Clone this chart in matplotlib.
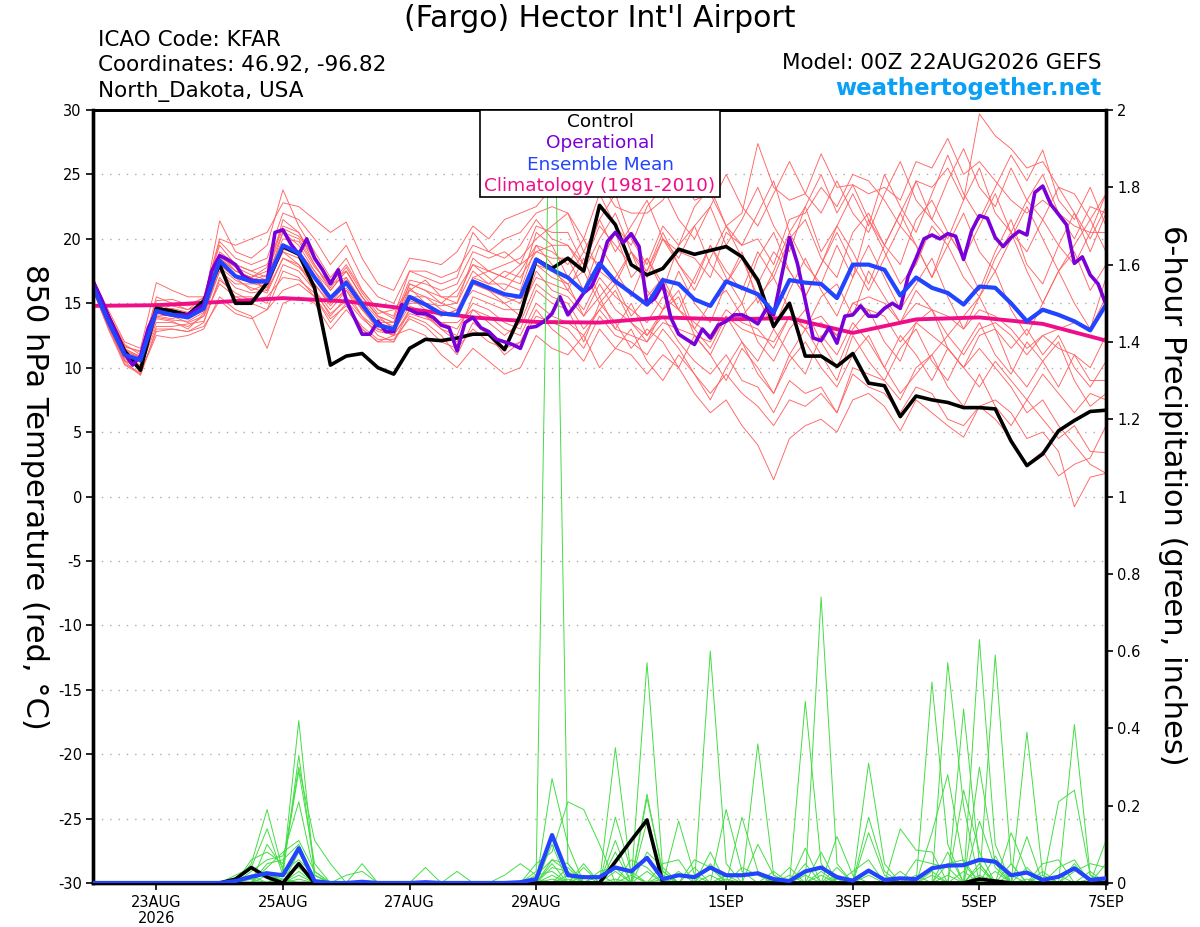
import numpy as np
import matplotlib
matplotlib.use("Agg")
import matplotlib.pyplot as plt
from matplotlib.patches import Rectangle

plt.rcParams['font.family'] = ['DejaVu Sans']

# ---------------- data ----------------
step6_hours = 6
step3_hours = 3
n6 = 65
n3 = 129

tick_days = [1, 3, 5, 7, 10, 12, 14, 16]
tick_labels = ["23AUG\n2026", "25AUG", "27AUG", "29AUG", "1SEP", "3SEP", "5SEP", "7SEP"]
temp_ticks = [-30, -25, -20, -15, -10, -5, 0, 5, 10, 15, 20, 25, 30]
precip_ticks = [0, 0.2, 0.4, 0.6, 0.8, 1.0, 1.2, 1.4, 1.6, 1.8, 2.0]
precip_ticklabels = ["0", "0.2", "0.4", "0.6", "0.8", "1", "1.2", "1.4", "1.6", "1.8", "2"]

ens_mean_t = [16.3, 13.5, 11.0, 10.6, 14.4, 14.1, 13.9, 14.6, 18.3, 17.1,
              16.7, 16.7, 19.5, 18.9, 17.0, 15.4, 16.6, 14.9, 13.3, 13.0,
              15.5, 14.9, 14.2, 14.1, 16.7, 16.2, 15.7, 15.5, 18.4, 17.6,
              17.0, 15.9, 18.1, 16.7, 15.8, 14.9, 16.8, 16.5, 15.3, 14.8,
              16.7, 16.2, 15.7, 14.3, 16.8, 16.6, 16.5, 15.4, 18.0, 18.0,
              17.6, 15.6, 17.0, 16.2, 15.8, 14.9, 16.3, 16.2, 15.0, 13.6,
              14.5, 14.1, 13.6, 12.9, 14.9]

control_t = [16.7, 13.9, 11.3, 9.8, 14.6, 14.4, 14.1, 15.2, 18.0, 15.0,
             15.0, 16.6, 19.4, 18.8, 16.2, 10.2, 10.9, 11.1, 10.0, 9.5,
             11.5, 12.2, 12.1, 12.3, 12.6, 12.6, 11.4, 14.1, 18.4, 17.7,
             18.5, 17.5, 22.6, 21.1, 18.0, 17.2, 17.7, 19.2, 18.8, 19.1,
             19.4, 18.6, 16.8, 13.2, 15.0, 10.9, 10.9, 10.1, 11.1, 8.8,
             8.6, 6.2, 7.8, 7.5, 7.3, 6.9, 6.9, 6.8, 4.3, 2.4,
             3.3, 5.1, 5.9, 6.6, 6.7]

operational_t = [16.7, 15.4, 13.9, 12.6, 11.1, 10.2, 10.9, 13.1, 14.4, 14.2,
                 14.1, 14.1, 14.1, 14.5, 14.9, 17.5, 18.7, 18.4, 18.0, 17.1,
                 16.8, 16.7, 16.7, 20.5, 20.7, 19.6, 18.8, 20.0, 18.5, 17.6,
                 16.5, 17.6, 15.2, 13.9, 12.6, 12.6, 13.6, 12.8, 12.8, 14.9,
                 14.5, 14.2, 14.2, 13.9, 13.3, 13.1, 11.3, 13.5, 13.9, 13.1,
                 12.8, 12.2, 12.0, 11.8, 11.5, 13.1, 13.2, 13.6, 14.2, 15.5,
                 14.1, 14.9, 15.8, 16.3, 17.7, 19.8, 20.5, 19.7, 20.4, 19.4,
                 14.9, 15.4, 16.5, 13.9, 12.6, 12.2, 11.8, 13.0, 12.3, 13.3,
                 13.6, 14.1, 14.1, 13.8, 13.4, 14.5, 14.1, 17.1, 20.1, 18.1,
                 15.2, 12.3, 12.1, 13.1, 11.9, 14.0, 14.1, 14.8, 14.0, 14.0,
                 14.6, 15.0, 14.6, 17.1, 18.5, 20.0, 20.3, 20.0, 20.4, 20.2,
                 18.4, 20.6, 21.8, 21.6, 20.1, 19.4, 20.1, 20.6, 20.3, 23.6,
                 24.1, 22.7, 21.9, 21.1, 18.1, 18.6, 17.2, 16.5, 14.9]

clim_days = [0, 1, 2, 3, 4, 5, 6, 7, 8, 9, 10, 11, 12, 13, 14, 15, 16]
climatology_t = [14.8, 14.85, 15.1, 15.4, 15.15, 14.55, 13.9, 13.55, 13.5, 13.9,
                 13.75, 13.85, 12.7, 13.75, 13.9, 13.4, 12.1]

member_t_01 = [16.5, 14.0, 11.5, 10.8, 15.5, 15.0, 14.5, 15.0, 21.4, 19.0,
               18.5, 19.5, 23.8, 21.0, 19.0, 17.0, 18.5, 16.0, 14.5, 14.0,
               17.5, 17.0, 16.5, 17.0, 20.5, 19.0, 18.5, 19.5, 21.5, 20.0,
               19.5, 18.0, 21.0, 19.5, 18.0, 17.5, 20.0, 19.0, 18.5, 17.0,
               20.5, 19.5, 20.0, 18.0, 21.5, 22.0, 24.0, 22.5, 25.0, 24.5,
               23.0, 21.0, 24.5, 24.0, 25.5, 23.0, 29.7, 28.0, 27.0, 25.5,
               26.0, 24.0, 23.5, 21.5, 23.5]
member_t_02 = [16.0, 13.0, 10.5, 9.4, 13.0, 13.0, 12.8, 13.5, 17.0, 15.5,
               15.0, 14.5, 17.5, 17.0, 15.5, 13.5, 15.0, 13.0, 12.0, 12.0,
               14.0, 13.5, 12.5, 11.0, 13.5, 12.5, 11.0, 12.0, 14.5, 13.0,
               12.0, 10.5, 13.0, 11.5, 11.0, 9.5, 11.0, 10.0, 8.0, 6.5,
               7.5, 5.5, 4.0, 1.3, 4.5, 5.5, 6.0, 5.0, 7.5, 8.0,
               7.0, 5.1, 7.5, 6.5, 5.5, 4.6, 7.0, 7.5, 6.5, 4.5,
               5.0, 3.5, -0.8, 1.5, 1.8]
member_t_03 = [16.8, 14.2, 11.8, 11.0, 15.0, 14.8, 14.5, 15.5, 19.5, 18.0,
               17.5, 17.0, 21.5, 20.5, 18.0, 16.0, 17.5, 15.5, 14.0, 13.5,
               16.5, 16.0, 15.5, 15.0, 18.5, 17.5, 17.0, 16.5, 20.5, 19.5,
               17.0, 19.0, 18.0, 20.5, 17.0, 18.5, 16.0, 19.5, 21.0, 18.0,
               16.5, 19.0, 15.0, 17.5, 20.5, 18.0, 16.5, 19.5, 17.0, 21.5,
               19.0, 16.5, 18.0, 21.0, 19.5, 17.0, 15.5, 18.5, 20.5, 17.5,
               15.0, 17.5, 19.0, 16.0, 18.0]
member_t_04 = [16.2, 13.2, 10.8, 10.2, 13.5, 13.5, 13.2, 14.0, 16.5, 15.5,
               15.5, 15.0, 18.0, 17.5, 16.0, 14.0, 15.5, 14.0, 13.0, 12.5,
               14.5, 14.0, 13.5, 13.0, 15.0, 14.5, 13.5, 13.0, 16.0, 15.0,
               14.5, 12.0, 15.0, 13.5, 11.5, 13.0, 12.0, 10.0, 12.5, 11.0,
               9.0, 11.5, 10.0, 8.0, 10.5, 12.0, 10.0, 8.5, 11.0, 12.5,
               10.0, 8.0, 9.5, 11.0, 8.5, 7.0, 9.5, 7.0, 5.5, 7.5,
               6.0, 4.5, 5.5, 3.5, 3.4]
member_t_05 = [16.4, 13.8, 11.2, 10.5, 14.5, 14.2, 14.0, 14.8, 18.5, 17.5,
               17.0, 17.5, 20.5, 19.5, 17.5, 15.5, 17.0, 15.0, 13.5, 13.0,
               16.0, 15.5, 15.0, 16.0, 18.0, 17.5, 18.0, 18.5, 20.0, 21.0,
               22.0, 19.0, 21.5, 23.5, 20.0, 18.0, 21.0, 19.5, 22.5, 24.0,
               21.0, 19.5, 22.0, 24.5, 20.5, 22.5, 19.0, 21.0, 23.5, 21.0,
               25.0, 22.5, 20.5, 23.5, 26.5, 23.5, 21.5, 24.0, 26.5, 24.5,
               26.9, 23.0, 21.5, 24.0, 21.0]
member_t_06 = [16.6, 13.6, 11.4, 10.9, 14.2, 14.5, 14.0, 14.5, 18.0, 17.0,
               16.0, 16.5, 19.0, 18.5, 17.0, 15.0, 16.5, 14.5, 13.5, 13.5,
               15.0, 15.0, 14.0, 14.5, 16.5, 16.0, 15.0, 14.0, 17.5, 16.0,
               15.5, 14.0, 16.5, 14.5, 13.5, 12.5, 14.0, 12.0, 10.5, 9.5,
               11.0, 9.0, 8.5, 6.5, 9.0, 8.0, 8.5, 6.5, 9.5, 8.5,
               8.0, 6.5, 8.5, 8.0, 6.0, 5.5, 7.0, 6.0, 4.5, 2.5,
               3.5, 1.6, 2.5, 3.0, 5.5]
member_t_07 = [16.3, 13.5, 10.9, 10.0, 14.0, 13.8, 14.2, 14.8, 18.8, 17.5,
               17.0, 16.0, 19.5, 19.0, 17.5, 16.0, 17.5, 15.5, 14.0, 13.0,
               15.5, 15.5, 14.5, 14.0, 17.0, 16.5, 17.5, 17.0, 19.0, 18.5,
               18.5, 16.0, 19.5, 17.5, 15.5, 18.5, 16.5, 14.5, 17.0, 19.5,
               17.0, 15.0, 18.5, 20.5, 17.5, 15.5, 18.0, 21.0, 19.0, 16.5,
               19.5, 22.0, 19.5, 17.0, 20.5, 18.5, 16.0, 19.0, 21.5, 18.0,
               16.5, 19.5, 22.0, 19.0, 22.0]
member_t_08 = [16.7, 13.9, 11.6, 11.3, 15.0, 14.0, 13.5, 14.0, 17.5, 16.5,
               16.5, 16.5, 19.0, 18.0, 16.5, 15.0, 16.0, 14.5, 13.0, 12.5,
               15.5, 14.5, 14.0, 14.5, 16.0, 15.5, 15.0, 15.5, 18.0, 17.5,
               16.5, 17.5, 15.0, 16.5, 14.0, 15.5, 17.0, 14.5, 13.0, 15.0,
               16.0, 14.0, 15.5, 17.0, 14.5, 13.0, 15.5, 16.5, 14.0, 17.5,
               15.5, 13.5, 16.0, 14.5, 12.5, 14.0, 15.5, 13.0, 11.5, 13.0,
               11.0, 12.5, 10.0, 8.5, 10.5]
member_t_09 = [16.9, 14.4, 12.0, 11.5, 16.6, 16.0, 15.5, 15.5, 20.0, 19.5,
               20.0, 20.5, 22.8, 22.5, 21.5, 20.5, 21.3, 18.5, 16.5, 16.0,
               18.5, 18.3, 18.0, 19.0, 21.0, 20.0, 21.5, 22.0, 22.5, 24.0,
               24.0, 23.5, 24.5, 22.5, 22.0, 22.0, 23.0, 25.0, 23.0, 23.5,
               21.0, 22.0, 27.4, 24.0, 23.0, 23.5, 26.6, 24.0, 24.2, 23.5,
               24.0, 23.0, 26.0, 25.5, 27.8, 25.0, 26.0, 24.5, 23.0, 22.0,
               23.0, 22.0, 21.0, 20.5, 23.5]
member_t_10 = [16.1, 13.1, 10.3, 9.6, 12.5, 12.3, 12.5, 13.0, 15.5, 14.5,
               14.0, 11.5, 15.0, 15.5, 15.0, 13.0, 14.5, 13.0, 12.0, 12.5,
               13.0, 12.5, 11.0, 10.0, 11.5, 10.5, 9.5, 10.0, 12.5, 11.5,
               11.0, 12.5, 10.0, 11.5, 13.0, 10.5, 9.0, 11.0, 9.5, 7.5,
               10.0, 12.0, 9.5, 8.0, 11.0, 13.0, 11.0, 9.0, 12.5, 10.5,
               9.0, 11.5, 13.0, 10.5, 9.0, 11.5, 13.5, 11.0, 9.5, 12.0,
               10.5, 8.5, 11.0, 9.0, 9.0]
member_t_11 = [16.5, 13.7, 11.1, 10.6, 14.8, 14.3, 13.8, 14.6, 18.2, 17.2,
               16.8, 17.2, 20.0, 19.8, 17.8, 16.5, 17.0, 15.2, 13.8, 13.2,
               16.2, 15.0, 14.8, 15.0, 17.5, 16.5, 16.5, 16.0, 19.5, 18.0,
               16.0, 18.5, 15.5, 17.0, 19.0, 16.0, 14.5, 17.5, 15.0, 13.5,
               16.5, 18.5, 15.5, 13.0, 16.0, 18.5, 16.0, 14.0, 17.0, 19.5,
               17.0, 14.5, 16.5, 18.5, 15.5, 13.0, 15.5, 17.5, 14.5, 12.5,
               15.0, 17.5, 15.0, 13.0, 17.0]
member_t_12 = [16.2, 13.3, 10.6, 9.9, 13.8, 13.6, 13.0, 14.2, 17.8, 16.8,
               16.2, 15.8, 18.5, 18.0, 16.0, 14.5, 16.0, 14.0, 12.5, 12.0,
               14.5, 14.0, 13.0, 12.5, 15.5, 15.0, 14.5, 14.5, 17.0, 16.5,
               16.0, 14.5, 17.0, 15.5, 14.5, 13.5, 15.5, 14.5, 13.5, 12.5,
               14.5, 13.5, 13.0, 11.5, 14.0, 13.5, 14.0, 12.5, 15.0, 14.5,
               14.0, 12.0, 13.5, 12.5, 11.5, 10.0, 11.5, 10.0, 8.5, 6.5,
               7.5, 5.5, 4.0, 2.5, 1.8]
member_t_13 = [16.6, 13.8, 11.3, 10.7, 14.6, 14.6, 14.3, 14.9, 19.0, 18.0,
               17.5, 18.0, 21.0, 20.5, 18.5, 16.5, 18.0, 16.0, 14.5, 13.8,
               16.8, 16.5, 16.0, 16.5, 19.0, 18.5, 19.0, 18.0, 21.0, 20.5,
               20.5, 18.0, 21.5, 19.0, 21.0, 23.0, 20.0, 18.5, 21.0, 22.5,
               19.5, 21.5, 24.0, 21.0, 19.0, 22.5, 25.0, 22.0, 24.2, 21.5,
               19.5, 22.0, 24.5, 21.5, 20.0, 23.0, 25.5, 22.0, 20.5, 23.0,
               25.0, 22.0, 20.0, 22.5, 22.0]
member_t_14 = [16.0, 12.9, 10.2, 9.5, 12.8, 13.0, 12.8, 13.2, 15.2, 14.2,
               13.8, 14.5, 16.0, 16.5, 15.5, 13.8, 14.8, 13.2, 12.2, 12.2,
               13.8, 13.2, 12.0, 11.5, 13.0, 12.0, 11.5, 12.0, 14.0, 13.5,
               13.0, 11.5, 14.0, 12.5, 12.0, 11.0, 13.0, 11.5, 9.5, 8.0,
               9.5, 8.0, 7.0, 5.5, 7.5, 7.0, 8.0, 6.5, 10.0, 9.5,
               9.0, 7.5, 10.0, 11.0, 12.5, 11.0, 13.0, 13.5, 12.5, 11.0,
               12.5, 13.0, 13.5, 13.0, 15.5]
member_t_15 = [16.4, 13.6, 11.0, 10.4, 14.3, 14.9, 14.8, 15.2, 18.6, 17.8,
               17.2, 16.8, 20.5, 20.0, 18.0, 16.2, 17.8, 15.8, 14.2, 14.5,
               16.0, 16.8, 15.5, 15.5, 18.0, 17.0, 16.0, 17.5, 19.5, 19.0,
               18.0, 20.0, 17.5, 16.5, 19.0, 17.0, 20.0, 18.0, 16.0, 18.5,
               21.0, 18.5, 16.5, 19.0, 17.5, 15.5, 18.0, 20.5, 18.0, 16.0,
               18.5, 21.0, 19.5, 17.0, 19.5, 22.0, 19.0, 17.5, 20.0, 22.5,
               20.0, 17.5, 19.5, 21.5, 19.0]
member_t_16 = [16.3, 13.4, 10.7, 10.1, 13.9, 13.7, 13.6, 14.3, 17.5, 16.2,
               15.8, 16.0, 18.5, 17.8, 16.5, 14.8, 16.2, 14.6, 13.0, 12.8,
               14.8, 14.2, 13.0, 12.0, 14.5, 13.5, 12.5, 13.5, 16.5, 15.5,
               15.0, 13.0, 14.5, 16.0, 13.5, 12.0, 14.5, 15.5, 12.5, 11.0,
               13.5, 15.0, 12.0, 10.5, 13.0, 14.5, 12.0, 10.0, 13.0, 14.5,
               12.0, 10.5, 13.5, 14.5, 11.5, 10.0, 12.5, 13.0, 10.0, 8.5,
               10.5, 12.0, 9.0, 7.0, 8.0]
member_t_17 = [16.7, 14.1, 11.7, 11.2, 15.2, 15.3, 14.9, 15.4, 19.8, 18.5,
               18.0, 18.5, 22.0, 21.5, 20.0, 18.0, 19.5, 17.0, 15.5, 15.0,
               17.5, 17.5, 17.0, 17.5, 19.5, 19.0, 20.0, 20.5, 22.0, 22.5,
               22.0, 20.0, 23.5, 21.0, 19.5, 22.5, 24.0, 21.5, 20.0, 22.5,
               25.0, 22.5, 21.0, 23.5, 26.0, 23.5, 22.0, 24.5, 22.0, 20.5,
               23.5, 26.0, 23.0, 21.5, 24.5, 27.0, 24.0, 22.5, 25.5, 23.0,
               21.5, 24.0, 22.0, 20.0, 22.5]
member_t_18 = [16.2, 13.2, 10.5, 10.0, 13.2, 13.2, 13.4, 13.6, 16.8, 15.8,
               15.2, 15.5, 17.0, 16.8, 15.8, 14.2, 15.2, 13.8, 12.8, 12.6,
               14.2, 13.8, 13.5, 13.5, 14.5, 14.0, 13.0, 12.5, 15.0, 14.0,
               13.5, 12.5, 14.5, 13.0, 12.5, 12.0, 13.5, 13.0, 12.5, 12.0,
               14.0, 13.0, 12.5, 12.0, 14.0, 13.0, 13.5, 12.5, 15.0, 15.5,
               15.0, 13.5, 15.0, 14.5, 14.0, 13.0, 14.5, 14.0, 13.0, 11.5,
               12.5, 11.5, 11.0, 10.0, 12.5]
member_t_19 = [16.5, 13.7, 11.3, 10.8, 14.7, 14.4, 14.2, 15.0, 18.5, 17.5,
               17.0, 17.8, 20.8, 20.2, 18.5, 16.8, 17.5, 15.5, 14.0, 13.5,
               16.5, 16.0, 15.0, 14.5, 17.0, 17.5, 17.0, 18.0, 19.0, 19.5,
               19.5, 17.5, 20.0, 22.0, 19.0, 17.5, 20.5, 18.0, 16.5, 19.5,
               17.5, 16.0, 19.0, 17.0, 20.0, 21.5, 18.5, 17.0, 20.5, 22.0,
               19.5, 18.0, 21.5, 23.0, 20.5, 18.5, 21.0, 23.5, 20.5, 19.0,
               21.5, 19.5, 18.0, 20.5, 20.5]
member_t_20 = [16.4, 13.5, 11.0, 10.5, 14.1, 14.0, 13.9, 14.4, 18.0, 17.0,
               16.6, 16.2, 19.2, 18.8, 17.2, 15.5, 16.8, 14.8, 13.5, 13.0,
               15.2, 14.8, 14.2, 14.0, 16.5, 16.0, 15.5, 15.0, 18.0, 17.0,
               16.5, 14.0, 15.5, 13.0, 15.0, 12.5, 14.5, 16.0, 13.0, 11.5,
               14.0, 12.0, 10.5, 13.0, 11.0, 9.5, 12.5, 11.0, 13.5, 12.0,
               10.0, 12.5, 11.0, 9.0, 11.5, 10.0, 8.5, 10.5, 9.0, 7.5,
               9.5, 8.0, 6.5, 8.0, 7.5]

members_t = [member_t_01, member_t_02, member_t_03, member_t_04, member_t_05,
             member_t_06, member_t_07, member_t_08, member_t_09, member_t_10,
             member_t_11, member_t_12, member_t_13, member_t_14, member_t_15,
             member_t_16, member_t_17, member_t_18, member_t_19, member_t_20]

# 6-hour precipitation (inches): step index -> amount, all other steps dry
member_p_01 = {10: 0.05, 11: 0.19, 12: 0.03, 13: 0.42, 14: 0.02, 28: 0.03, 29: 2.45, 30: 0.05,
               35: 0.23, 36: 0.02, 46: 0.74, 47: 0.05, 53: 0.52, 54: 0.10, 56: 0.05, 59: 0.39, 60: 0.02}
member_p_02 = {9: 0.02, 10: 0.04, 11: 0.14, 12: 0.02, 13: 0.33, 14: 0.03, 29: 0.27, 30: 0.10,
               33: 0.35, 34: 0.02, 39: 0.60, 40: 0.05, 45: 0.09, 49: 0.31, 50: 0.05, 56: 0.63, 57: 0.10, 62: 0.05}
member_p_03 = {10: 0.06, 11: 0.08, 12: 0.05, 13: 0.30, 14: 0.11, 15: 0.05, 28: 0.05, 29: 0.08,
               30: 0.21, 31: 0.19, 32: 0.10, 35: 0.57, 36: 0.03, 42: 0.36, 43: 0.02, 54: 0.57,
               55: 0.20, 62: 0.41, 63: 0.02}
member_p_04 = {11: 0.10, 12: 0.04, 13: 0.29, 14: 0.05, 17: 0.05, 29: 0.10, 31: 0.05, 33: 0.17,
               34: 0.03, 37: 0.16, 38: 0.02, 45: 0.47, 46: 0.05, 53: 0.13, 54: 0.28, 55: 0.05,
               57: 0.59, 58: 0.05, 64: 0.11}
member_p_05 = {10: 0.03, 11: 0.06, 12: 0.07, 13: 0.21, 14: 0.02, 21: 0.04, 30: 0.04, 33: 0.11,
               35: 0.16, 39: 0.08, 41: 0.17, 42: 0.03, 49: 0.17, 50: 0.03, 55: 0.45, 56: 0.05,
               61: 0.21, 62: 0.24, 63: 0.02}
member_p_06 = {11: 0.04, 12: 0.08, 13: 0.11, 14: 0.03, 26: 0.02, 27: 0.05, 28: 0.02, 29: 0.06,
               30: 0.03, 35: 0.22, 36: 0.03, 40: 0.19, 41: 0.03, 47: 0.12, 48: 0.02, 56: 0.30,
               57: 0.05, 59: 0.12}
member_p_07 = {12: 0.03, 13: 0.06, 14: 0.02, 23: 0.03, 29: 0.05, 32: 0.03, 33: 0.04, 36: 0.05,
               37: 0.06, 44: 0.02, 46: 0.08, 51: 0.14, 52: 0.085, 53: 0.08, 56: 0.16, 57: 0.04,
               60: 0.05, 61: 0.06}
member_p_08 = {10: 0.02, 11: 0.03, 13: 0.05, 29: 0.04, 30: 0.03, 34: 0.06, 35: 0.04, 38: 0.06,
               39: 0.04, 42: 0.10, 43: 0.02, 49: 0.13, 50: 0.02, 55: 0.24, 56: 0.08, 58: 0.13,
               59: 0.03, 62: 0.03, 63: 0.05, 64: 0.04}
member_p_09 = {9: 0.01, 10: 0.02, 13: 0.08, 28: 0.02, 29: 0.03, 31: 0.04, 33: 0.08, 38: 0.04,
               40: 0.02, 45: 0.05, 47: 0.04, 52: 0.06, 53: 0.05, 54: 0.04, 57: 0.07, 60: 0.03}
member_p_10 = {11: 0.05, 12: 0.06, 13: 0.10, 29: 0.06, 30: 0.05, 35: 0.08, 36: 0.04, 39: 0.05,
               43: 0.03, 48: 0.03, 49: 0.06, 54: 0.05, 55: 0.06, 58: 0.05, 61: 0.04, 62: 0.06}
member_p_11 = {12: 0.02, 13: 0.04, 16: 0.02, 17: 0.03, 28: 0.01, 30: 0.02, 32: 0.02, 37: 0.03,
               41: 0.04, 42: 0.02, 46: 0.03, 51: 0.03, 54: 0.08, 59: 0.04, 63: 0.03}
member_p_12 = {10: 0.01, 13: 0.03, 29: 0.02, 33: 0.03, 36: 0.02, 44: 0.04, 47: 0.02, 53: 0.03,
               56: 0.04, 60: 0.02, 64: 0.05}
member_p_13 = {11: 0.02, 12: 0.01, 30: 0.01, 34: 0.02, 39: 0.02, 45: 0.02, 53: 0.02, 57: 0.03, 61: 0.02}
member_p_14 = {13: 0.02, 29: 0.01, 35: 0.03, 43: 0.01, 49: 0.02, 55: 0.03, 58: 0.02}
member_p_15 = {12: 0.01, 31: 0.02, 36: 0.01, 46: 0.02, 52: 0.02, 56: 0.02, 63: 0.01}
member_p_16 = {13: 0.01, 33: 0.01, 40: 0.01, 47: 0.01, 54: 0.02, 59: 0.01}

members_p = [member_p_01, member_p_02, member_p_03, member_p_04, member_p_05, member_p_06,
             member_p_07, member_p_08, member_p_09, member_p_10, member_p_11, member_p_12,
             member_p_13, member_p_14, member_p_15, member_p_16]

ens_mean_p = [0, 0, 0, 0, 0, 0, 0, 0, 0, 0.005,
              0.016, 0.025, 0.02, 0.09, 0.005, 0, 0, 0.003, 0, 0,
              0, 0.002, 0, 0, 0, 0, 0, 0.002, 0.01, 0.124,
              0.02, 0.015, 0.015, 0.04, 0.03, 0.065, 0.01, 0.02, 0.015, 0.04,
              0.02, 0.02, 0.025, 0.01, 0.005, 0.03, 0.04, 0.015, 0.006, 0.032,
              0.008, 0.012, 0.01, 0.038, 0.045, 0.046, 0.06, 0.055, 0.02, 0.027,
              0.008, 0.016, 0.038, 0.008, 0.012]

control_p = {9: 0.01, 10: 0.04, 11: 0.015, 13: 0.05, 33: 0.055, 34: 0.11, 35: 0.163,
             56: 0.01, 57: 0.005}

# ---------------- figure ----------------
fig = plt.figure(figsize=(12, 9.27), dpi=100)
ax = fig.add_axes([0.0775, 0.0475, 0.8442, 0.8338])
ax2 = ax.twinx()

days6 = np.arange(n6) * step6_hours / 24.0
days3 = np.arange(n3) * step3_hours / 24.0

red = '#ff6464'
green = '#44dd44'
purple = '#7a00d8'
blue = '#2244ff'
pink = '#ee0f88'

for m in members_t:
    ax.plot(days6, m, color=red, lw=0.65, zorder=2)
ax.plot(clim_days, climatology_t, color=pink, lw=2.8, zorder=4)
ax.plot(days6, control_t, color='black', lw=2.6, zorder=5)
ax.plot(days3, operational_t, color=purple, lw=2.6, zorder=5)
ax.plot(days6, ens_mean_t, color=blue, lw=3.0, zorder=6)

for d in members_p:
    vals = np.zeros(n6)
    for k, v in d.items():
        vals[k] = v
    ax2.plot(days6, vals, color=green, lw=0.7, zorder=2)
cp = np.zeros(n6)
for k, v in control_p.items():
    cp[k] = v
ax2.plot(days6, cp, color='black', lw=2.6, zorder=5)
ax2.plot(days6, ens_mean_p, color=blue, lw=3.0, zorder=6)

ax.set_xlim(0, 16)
ax.set_ylim(-30, 30)
ax2.set_ylim(0, 2)

ax.set_yticks(temp_ticks)
ax.set_yticklabels([str(t) for t in temp_ticks])
ax2.set_yticks(precip_ticks)
ax2.set_yticklabels(precip_ticklabels)
ax.set_xticks(tick_days)
ax.set_xticklabels(tick_labels, linespacing=1.05)

for t in temp_ticks[1:-1]:
    ax.axhline(t, color='#aaaaaa', lw=1.0, ls=(0, (1, 5)), zorder=1)

ax.tick_params(axis='y', direction='out', length=5, width=1.2, labelsize=10.5, pad=3)
ax.tick_params(axis='x', direction='out', length=5, width=1.2, labelsize=10.5, pad=4)
ax2.tick_params(axis='y', direction='out', length=5, width=1.2, labelsize=10.5, pad=3)

for a in (ax, ax2):
    for s in ['left', 'right', 'bottom']:
        a.spines[s].set_linewidth(2.4)
    a.spines['top'].set_linewidth(2.0)

# legend box
ax2.add_patch(Rectangle((0.382, 0.8875), 0.237, 0.1125, transform=ax2.transAxes,
                        facecolor='white', edgecolor='black', lw=1.2, zorder=20, clip_on=False))
leg_items = [("Control", 'black'), ("Operational", purple),
             ("Ensemble Mean", blue), ("Climatology (1981-2010)", pink)]
for k, (txt, col) in enumerate(leg_items):
    ax2.text(0.5005, 0.985 - k * 0.0278, txt, color=col, fontsize=13.3, ha='center',
             va='center', transform=ax2.transAxes, zorder=21)

# labels
fig.text(0.029, 0.464, "850 hPa Temperature (red, \u00b0C)", rotation=270, fontsize=22,
         ha='center', va='center')
fig.text(0.977, 0.466, "6-hour Precipitation (green, inches)", rotation=270, fontsize=22,
         ha='center', va='center')

fig.text(0.4995, 0.980, "(Fargo) Hector Int'l Airport", fontsize=21.5, ha='center', va='center')
fig.text(0.0815, 0.957, "ICAO Code: KFAR", fontsize=15.5, ha='left', va='center')
fig.text(0.0815, 0.930, "Coordinates: 46.92, -96.82", fontsize=15.5, ha='left', va='center')
fig.text(0.0815, 0.901, "North_Dakota, USA", fontsize=15.5, ha='left', va='center')
fig.text(0.9175, 0.932, "Model: 00Z 22AUG2026 GEFS", fontsize=15.5, ha='right', va='center')
fig.text(0.9175, 0.904, "weathertogether.net", fontsize=16.5, fontweight='bold',
         color='#0aa0f5', ha='right', va='center')

fig.savefig("out.png", dpi=100)
